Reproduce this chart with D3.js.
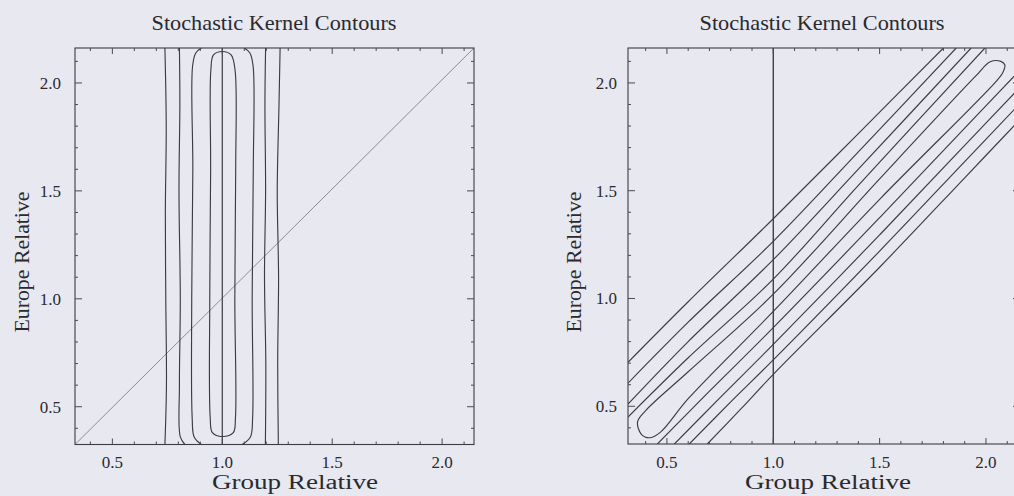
<!DOCTYPE html>
<html>
<head>
<meta charset="utf-8">
<script src="https://cdn.jsdelivr.net/npm/d3@7"></script>
<style>
  html, body { margin: 0; padding: 0; background: #e7e8f0; overflow: hidden; }
  svg { display: block; }
  text { font-family: "Liberation Serif", "DejaVu Serif", serif; fill: #2a2a2e; }
</style>
</head>
<body>
<svg id="chart" width="1014" height="496"></svg>
<script>
// ---- text ----
const titleText = "Stochastic Kernel Contours";
const xLabelText = "Group Relative";
const yLabelText = "Europe Relative";

// ---- ticks ----
const majorTicks = [0.5, 1.0, 1.5, 2.0];
const majorTickLabels = ["0.5", "1.0", "1.5", "2.0"];
const minorTicks = [0.4, 0.5, 0.6, 0.7, 0.8, 0.9, 1.0, 1.1, 1.2, 1.3, 1.4, 1.5, 1.6, 1.7, 1.8, 1.9, 2.0, 2.1];

// ---- left panel contours (x = group relative, y = europe relative) ----
const leftOuterA = [[0.739, 0.325], [0.746, 0.6], [0.743, 1.0], [0.741, 1.4], [0.745, 1.8], [0.739, 2.162]];
const leftOuterB = [[1.255, 0.325], [1.252, 0.7], [1.256, 1.1], [1.250, 1.5], [1.258, 1.9], [1.263, 2.162]];
const leftSecondA = [[0.83, 0.325], [0.809, 0.36], [0.805, 0.6], [0.809, 1.0], [0.803, 1.5], [0.807, 1.9], [0.805, 2.162]];
const leftSecondB = [[1.196, 0.325], [1.198, 0.7], [1.192, 1.1], [1.197, 1.5], [1.194, 1.9], [1.197, 2.162]];
const leftThirdA = [[0.905, 0.325], [0.872, 0.36], [0.863, 0.45], [0.861, 1.0], [0.866, 1.6], [0.865, 2.08], [0.88, 2.14], [0.905, 2.162]];
const leftThirdB = [[1.09, 0.325], [1.128, 0.36], [1.138, 0.45], [1.136, 1.0], [1.141, 1.6], [1.14, 2.08], [1.125, 2.14], [1.1, 2.162]];
const leftInner = [[0.945, 0.45], [0.943, 1.0], [0.947, 1.6], [0.948, 2.06], [0.96, 2.13], [1.0, 2.146], [1.04, 2.13], [1.058, 2.06], [1.061, 1.6], [1.057, 1.0], [1.06, 0.45], [1.05, 0.38], [1.0, 0.362], [0.955, 0.38]];
const leftContours = [leftOuterA, leftOuterB, leftSecondA, leftSecondB, leftThirdA, leftThirdB];
const leftClosed = [leftInner];
const leftDiagonal = [[0.33, 0.325], [2.145, 2.162]];
const leftVertical = [[1.0, 0.325], [1.0, 2.162]];

// ---- right panel contours ----
const rightUpper5 = [[0.317, 0.704], [0.6, 0.985], [1.0, 1.37], [1.4, 1.765], [1.80, 2.162]];
const rightUpper4 = [[0.317, 0.607], [0.6, 0.89], [1.0, 1.265], [1.4, 1.68], [1.86, 2.162]];
const rightUpper3 = [[0.317, 0.51], [0.6, 0.80], [1.0, 1.18], [1.4, 1.6], [1.93, 2.162]];
const rightUpper2 = [[0.317, 0.45], [0.6, 0.725], [1.0, 1.09], [1.4, 1.525], [1.995, 2.162]];
const rightLower2 = [[0.455, 0.325], [0.7, 0.57], [1.0, 0.865], [1.5, 1.375], [1.9, 1.79], [2.16, 2.06]];
const rightLower3 = [[0.535, 0.325], [0.75, 0.54], [1.0, 0.787], [1.5, 1.295], [1.9, 1.71], [2.16, 1.98]];
const rightLower4 = [[0.605, 0.325], [0.8, 0.52], [1.0, 0.715], [1.5, 1.22], [1.9, 1.635], [2.16, 1.905]];
const rightLower5 = [[0.69, 0.325], [0.85, 0.49], [1.0, 0.648], [1.5, 1.145], [1.9, 1.56], [2.16, 1.83]];
const rightInner = [[0.362, 0.428], [0.40, 0.48], [0.6, 0.66], [1.0, 1.02], [1.5, 1.555], [1.95, 2.03], [2.02, 2.098], [2.07, 2.1], [2.089, 2.083], [2.08, 2.05], [2.05, 2.01], [1.5, 1.46], [1.0, 0.94], [0.6, 0.535], [0.47, 0.38], [0.421, 0.354], [0.38, 0.37]];
const rightContours = [rightUpper5, rightUpper4, rightUpper3, rightUpper2, rightLower2, rightLower3, rightLower4, rightLower5];
const rightClosed = [rightInner];
const rightVertical = [[1.0, 0.325], [1.0, 2.162]];

const svg = d3.select("#chart");

const panels = [
  {
    id: "left",
    xRange: [75, 474], xDomain: [0.33, 2.145],
    yRange: [444.5, 48], yDomain: [0.325, 2.162],
    open: leftContours, closed: leftClosed,
    refLines: [{ pts: leftDiagonal, color: "#8c8c98", width: 1 }, { pts: leftVertical, color: "#3a3a3f", width: 1.2 }],
    titleX: 274, xLabelX: 295, yLabelX: 29, yTickX: 61
  },
  {
    id: "right",
    xRange: [628, 1020], xDomain: [0.317, 2.16],
    yRange: [444, 48], yDomain: [0.325, 2.162],
    open: rightContours, closed: rightClosed,
    refLines: [{ pts: rightVertical, color: "#333", width: 1.3 }],
    titleX: 822, xLabelX: 828, yLabelX: 581, yTickX: 617
  }
];

panels.forEach(p => {
  const x = d3.scaleLinear().domain(p.xDomain).range(p.xRange);
  const y = d3.scaleLinear().domain(p.yDomain).range(p.yRange);
  const g = svg.append("g").attr("class", "panel-" + p.id);

  const clipId = "clip-" + p.id;
  g.append("clipPath").attr("id", clipId)
    .append("rect")
    .attr("x", p.xRange[0]).attr("y", p.yRange[1])
    .attr("width", p.xRange[1] - p.xRange[0])
    .attr("height", p.yRange[0] - p.yRange[1]);

  const plot = g.append("g").attr("clip-path", `url(#${clipId})`);

  const lineOpen = d3.line().x(d => x(d[0])).y(d => y(d[1])).curve(d3.curveCatmullRom.alpha(0.5));
  const lineClosed = d3.line().x(d => x(d[0])).y(d => y(d[1])).curve(d3.curveCatmullRomClosed.alpha(0.5));
  const lineStraight = d3.line().x(d => x(d[0])).y(d => y(d[1]));

  p.refLines.forEach(r => {
    plot.append("path").attr("d", lineStraight(r.pts))
      .attr("fill", "none").attr("stroke", r.color).attr("stroke-width", r.width);
  });

  plot.selectAll("path.contour-open").data(p.open).join("path")
    .attr("class", "contour-open")
    .attr("d", lineOpen)
    .attr("fill", "none").attr("stroke", "#3c3c42").attr("stroke-width", 1.15);

  plot.selectAll("path.contour-closed").data(p.closed).join("path")
    .attr("class", "contour-closed")
    .attr("d", lineClosed)
    .attr("fill", "none").attr("stroke", "#3c3c42").attr("stroke-width", 1.15);

  // frame
  g.append("rect")
    .attr("x", p.xRange[0]).attr("y", p.yRange[1])
    .attr("width", p.xRange[1] - p.xRange[0])
    .attr("height", p.yRange[0] - p.yRange[1])
    .attr("fill", "none").attr("stroke", "#3c3c42").attr("stroke-width", 1.1);

  // inward ticks on all four sides
  const tickColor = "#4a4a50";
  const isMajor = v => majorTicks.some(m => Math.abs(m - v) < 1e-9);
  const xTicks = minorTicks.filter(v => v >= p.xDomain[0] && v <= p.xDomain[1]);
  const yTicks = minorTicks.filter(v => v >= p.yDomain[0] && v <= p.yDomain[1]);
  xTicks.forEach(v => {
    const len = isMajor(v) ? 6 : 3;
    g.append("line").attr("x1", x(v)).attr("x2", x(v)).attr("y1", p.yRange[0]).attr("y2", p.yRange[0] - len)
      .attr("stroke", tickColor).attr("stroke-width", 1);
    g.append("line").attr("x1", x(v)).attr("x2", x(v)).attr("y1", p.yRange[1]).attr("y2", p.yRange[1] + len)
      .attr("stroke", tickColor).attr("stroke-width", 1);
  });
  yTicks.forEach(v => {
    const len = isMajor(v) ? 7 : 3;
    g.append("line").attr("x1", p.xRange[0]).attr("x2", p.xRange[0] + len).attr("y1", y(v)).attr("y2", y(v))
      .attr("stroke", tickColor).attr("stroke-width", 1);
    g.append("line").attr("x1", p.xRange[1]).attr("x2", p.xRange[1] - len).attr("y1", y(v)).attr("y2", y(v))
      .attr("stroke", tickColor).attr("stroke-width", 1);
  });

  // tick labels
  majorTicks.forEach((v, i) => {
    g.append("text").attr("x", x(v)).attr("y", 468)
      .attr("text-anchor", "middle").attr("font-size", 17)
      .text(majorTickLabels[i]);
    g.append("text").attr("x", p.yTickX).attr("y", y(v) + 6)
      .attr("text-anchor", "end").attr("font-size", 17)
      .text(majorTickLabels[i]);
  });

  // title and axis labels
  g.append("text").attr("x", p.titleX).attr("y", 30)
    .attr("text-anchor", "middle").attr("font-size", 21.5)
    .attr("textLength", 245).attr("lengthAdjust", "spacingAndGlyphs")
    .text(titleText);
  g.append("text").attr("x", p.xLabelX).attr("y", 489)
    .attr("text-anchor", "middle").attr("font-size", 20)
    .attr("textLength", 166).attr("lengthAdjust", "spacingAndGlyphs")
    .text(xLabelText);
  g.append("text")
    .attr("transform", `translate(${p.yLabelX},262) rotate(-90)`)
    .attr("text-anchor", "middle").attr("font-size", 21)
    .attr("textLength", 141).attr("lengthAdjust", "spacingAndGlyphs")
    .text(yLabelText);
});
</script>
</body>
</html>
